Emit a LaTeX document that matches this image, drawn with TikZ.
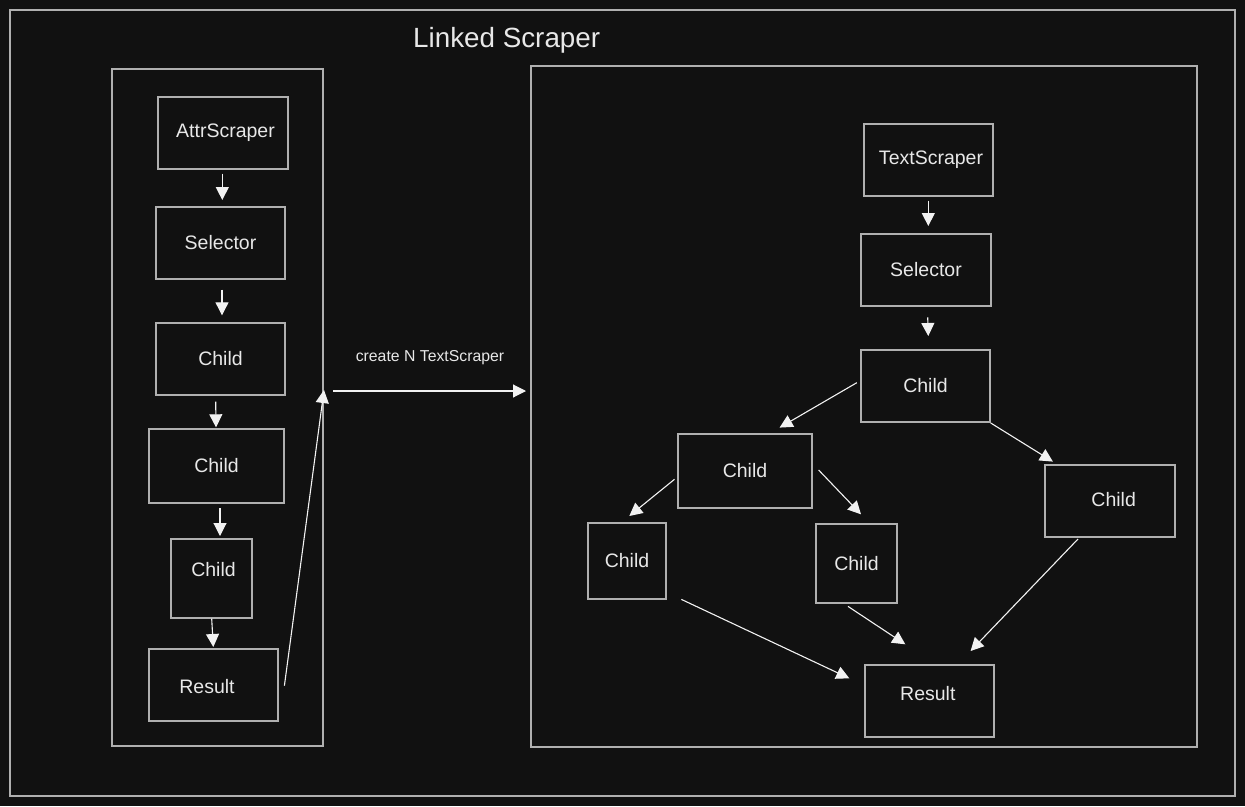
\documentclass[tikz,border=0pt]{standalone}
\usepackage{fontspec}
\setmainfont{Liberation Sans}
\usetikzlibrary{arrows.meta,calc}
\definecolor{bg}{HTML}{111111}
\definecolor{boxline}{HTML}{B0B0B0}
\definecolor{arrowc}{HTML}{F2F2F2}
\definecolor{txt}{HTML}{E8E8E8}
\tikzset{
  box/.style={draw=boxline, line width=1.4pt, inner sep=0pt, text=txt,
    font=\fontsize{19.5}{23}\selectfont},
  cont/.style={draw=boxline, line width=1.4pt, inner sep=0pt},
  arr/.style={draw=arrowc, line width=1.1pt,
    -{Triangle[width=13pt,length=13pt]}},
  lbl/.style={text=txt, inner sep=0pt},
  boxlbl/.style={text=txt, inner sep=0pt, font=\fontsize{19.5}{23}\selectfont}
}
\begin{document}
\begin{tikzpicture}[x=1pt,y=-1pt]
\fill[bg] (0,0) rectangle (1245,806);
\useasboundingbox (0,0) rectangle (1245,806);
% outer frame
\node[cont, minimum width=1225, minimum height=786] (frame) at (622.5,403) {};
\node[lbl, anchor=base west, font=\fontsize{27.8}{32}\selectfont] (title) at (413,47.5) {Linked Scraper};
% containers
\node[cont, minimum width=211, minimum height=677] (L) at (217.5,407.5) {};
\node[cont, minimum width=666, minimum height=681] (R) at (864,406.5) {};
% left column
\node[box, minimum width=130, minimum height=72, label={[boxlbl, xshift=2.5pt]center:AttrScraper}] (a1) at (223,133) {};
\node[box, minimum width=129, minimum height=72] (s1) at (220.5,243) {Selector};
\node[box, minimum width=129, minimum height=72] (c1) at (220.5,359) {Child};
\node[box, minimum width=135, minimum height=74] (c2) at (216.5,466) {Child};
\node[box, minimum width=81, minimum height=79, label={[boxlbl, xshift=2pt, yshift=8.5pt]center:Child}] (c3) at (211.5,578.5) {};
\node[box, minimum width=129, minimum height=72, label={[boxlbl, xshift=-6.5pt, yshift=-1.5pt]center:Result}] (r1) at (213.5,685) {};
% right side
\node[box, minimum width=129, minimum height=72, label={[boxlbl, xshift=2.5pt]center:TextScraper}] (t2) at (928.5,160) {};
\node[box, minimum width=130, minimum height=72] (s2) at (926,270) {Selector};
\node[box, minimum width=129, minimum height=72] (A) at (925.5,386) {Child};
\node[box, minimum width=134, minimum height=74] (B) at (745,471) {Child};
\node[box, minimum width=78, minimum height=76] (C) at (627,561) {Child};
\node[box, minimum width=81, minimum height=79] (D) at (856.5,563.5) {Child};
\node[box, minimum width=130, minimum height=72, label={[boxlbl, xshift=3.7pt, yshift=1.7pt]center:Child}] (E) at (1110,501) {};
\node[box, minimum width=129, minimum height=72, label={[boxlbl, xshift=-1.7pt, yshift=7.7pt]center:Result}] (r2) at (929.5,701) {};
% left arrows
\draw[arr] ($(a1.south)+(-0.7,4)$) -- ($(s1.north)+(1.8,-6.3)$);
\draw[arr] ($(s1.south)+(1.5,10)$) -- ($(c1.north)+(1.5,-7)$);
\draw[arr] ($(c1.south)+(-4.8,6)$) -- ($(c2.north)+(-0.5,-1)$);
\draw[arr] ($(c2.south)+(3.5,4.7)$) -- ($(c3.north)+(8.5,-2.3)$);
\draw[arr] ($(c3.south)+(0.2,0)$) -- ($(r1.north)+(-0.2,-1.3)$);
\draw[arr] ($(r1.east)+(5.7,0.7)$) -- ($(L.east)+(0.3,-17.5)$);
% link arrow
\draw[arr] ($(L.east)+(9.7,-16.5)$) -- ($(R.west)+(-4.3,-15.5)$);
\node[lbl, font=\fontsize{15.8}{19}\selectfont] (linklbl) at (430,358) {create N TextScraper};
% right arrows
\draw[arr] ($(t2.south)+(-0.2,4)$) -- ($(s2.north)+(2.3,-7.3)$);
\draw[arr] ($(s2.south)+(1.7,10.7)$) -- ($(A.north)+(2.8,-13.3)$);
\draw[arr] ($(A.west)+(-3.5,-3.3)$) -- ($(B.north)+(34.6,-5.7)$);
\draw[arr] ($(A.south east)+(0,0.3)$) -- ($(E.north west)+(8.6,-2.7)$);
\draw[arr] ($(B.west)+(-2.8,8.3)$) -- ($(C.north)+(2.3,-6.3)$);
\draw[arr] ($(B.east)+(5.9,-1)$) -- ($(D.north)+(4.5,-9)$);
\draw[arr] ($(C.south east)+(14.7,-0.3)$) -- ($(r2.west)+(-15,-22.7)$);
\draw[arr] ($(D.south)+(-8.5,2.7)$) -- ($(r2.north)+(-24.2,-20)$);
\draw[arr] ($(E.south)+(-32,1.3)$) -- ($(r2.north)+(41.1,-13.3)$);
\end{tikzpicture}
\end{document}
